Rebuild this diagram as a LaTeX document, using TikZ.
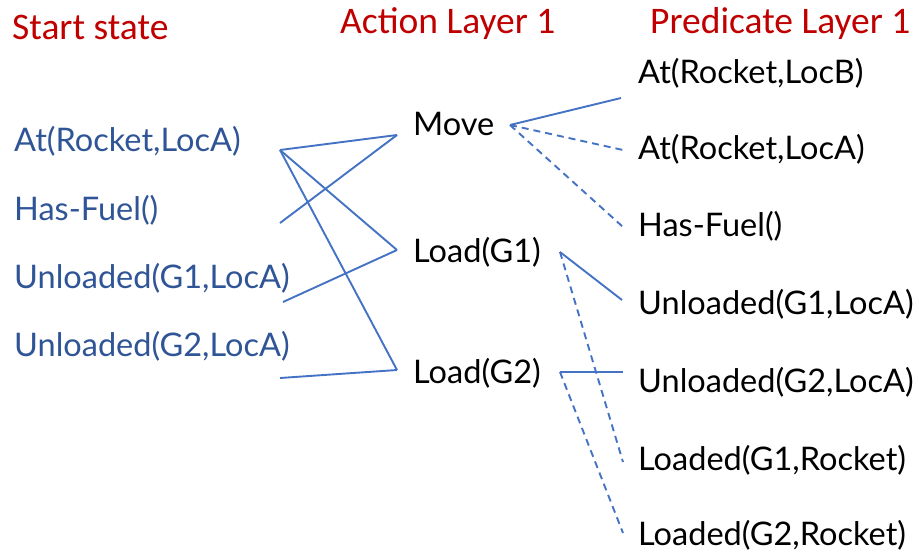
\documentclass[tikz,border=0pt]{standalone}
\usepackage{fontspec}
\setmainfont{Lato}
\newfontfamily\titlefont{Carlito}
\definecolor{titlered}{HTML}{C00000}
\definecolor{startblue}{HTML}{2F5597}
\definecolor{edgeblue}{HTML}{4472C4}
\begin{document}
\begin{tikzpicture}[x=1pt, y=-1pt,
  title/.style = {anchor = base west, inner sep = 0, text = titlered, font = \titlefont\fontsize{37.5}{42}\selectfont},
  fact/.style = {anchor = base west, inner sep = 0, font = \fontsize{32.5}{38}\selectfont},
  startfact/.style = {fact, text = startblue},
  edge/.style = {draw = edgeblue, line width = 1.9pt},
  noop/.style = {edge, dashed, dash pattern = on 7pt off 5pt}]
\useasboundingbox (0, 0) rectangle (919, 558);

\node [title] (ts) at (12, 39) {Start state};
\node [title] (ta) at (340, 33) {Action Layer 1};
\node [title] (tp) at (650, 33) {Predicate Layer 1};

\node [startfact] (s1) at (14, 151) {At(Rocket,LocA)};
\node [startfact] (s2) at (14, 220) {Has-Fuel()};
\node [startfact] (s3) at (14, 288) {Unloaded(G1,LocA)};
\node [startfact] (s4) at (14, 356) {Unloaded(G2,LocA)};

\node [fact] (move) at (413, 135) {Move};
\node [fact] (load1) at (413, 262) {Load(G1)};
\node [fact] (load2) at (413, 383) {Load(G2)};

\node [fact] (p1) at (638, 83) {At(Rocket,LocB)};
\node [fact] (p2) at (638, 159) {At(Rocket,LocA)};
\node [fact] (p3) at (638, 236) {Has-Fuel()};
\node [fact] (p4) at (638, 314) {Unloaded(G1,LocA)};
\node [fact] (p5) at (638, 392) {Unloaded(G2,LocA)};
\node [fact] (p6) at (638, 470) {Loaded(G1,Rocket)};
\node [fact] (p7) at (638, 545) {Loaded(G2,Rocket)};

% line ends
\coordinate (s1out) at (280, 150);
\coordinate (s2out) at (280, 223);
\coordinate (s3out) at (283, 302);
\coordinate (s4out) at (280, 378);
\coordinate (movein) at (397, 135);
\coordinate (load1in) at (397, 250);
\coordinate (load2in) at (397, 370);
\coordinate (moveout) at (510, 125);
\coordinate (load1out) at (560, 252);
\coordinate (load2out) at (560, 372);
\coordinate (p1in) at (621, 98);
\coordinate (p2in) at (623, 150);
\coordinate (p3in) at (623, 227);
\coordinate (p4in) at (622, 300);
\coordinate (p5in) at (623, 372);
\coordinate (p6in) at (623, 462);
\coordinate (p7in) at (623, 533);

\draw [edge] (s1out) -- (movein);
\draw [edge] (s1out) -- (load1in);
\draw [edge] (s1out) -- (load2in);
\draw [edge] (s2out) -- (movein);
\draw [edge] (s3out) -- (load1in);
\draw [edge] (s4out) -- (load2in);

\draw [edge] (moveout) -- (p1in);
\draw [noop] (moveout) -- (p2in);
\draw [noop] (moveout) -- (p3in);
\draw [edge] (load1out) -- (p4in);
\draw [noop] (load1out) -- (p6in);
\draw [edge] (load2out) -- (p5in);
\draw [noop] (load2out) -- (p7in);

\end{tikzpicture}
\end{document}
